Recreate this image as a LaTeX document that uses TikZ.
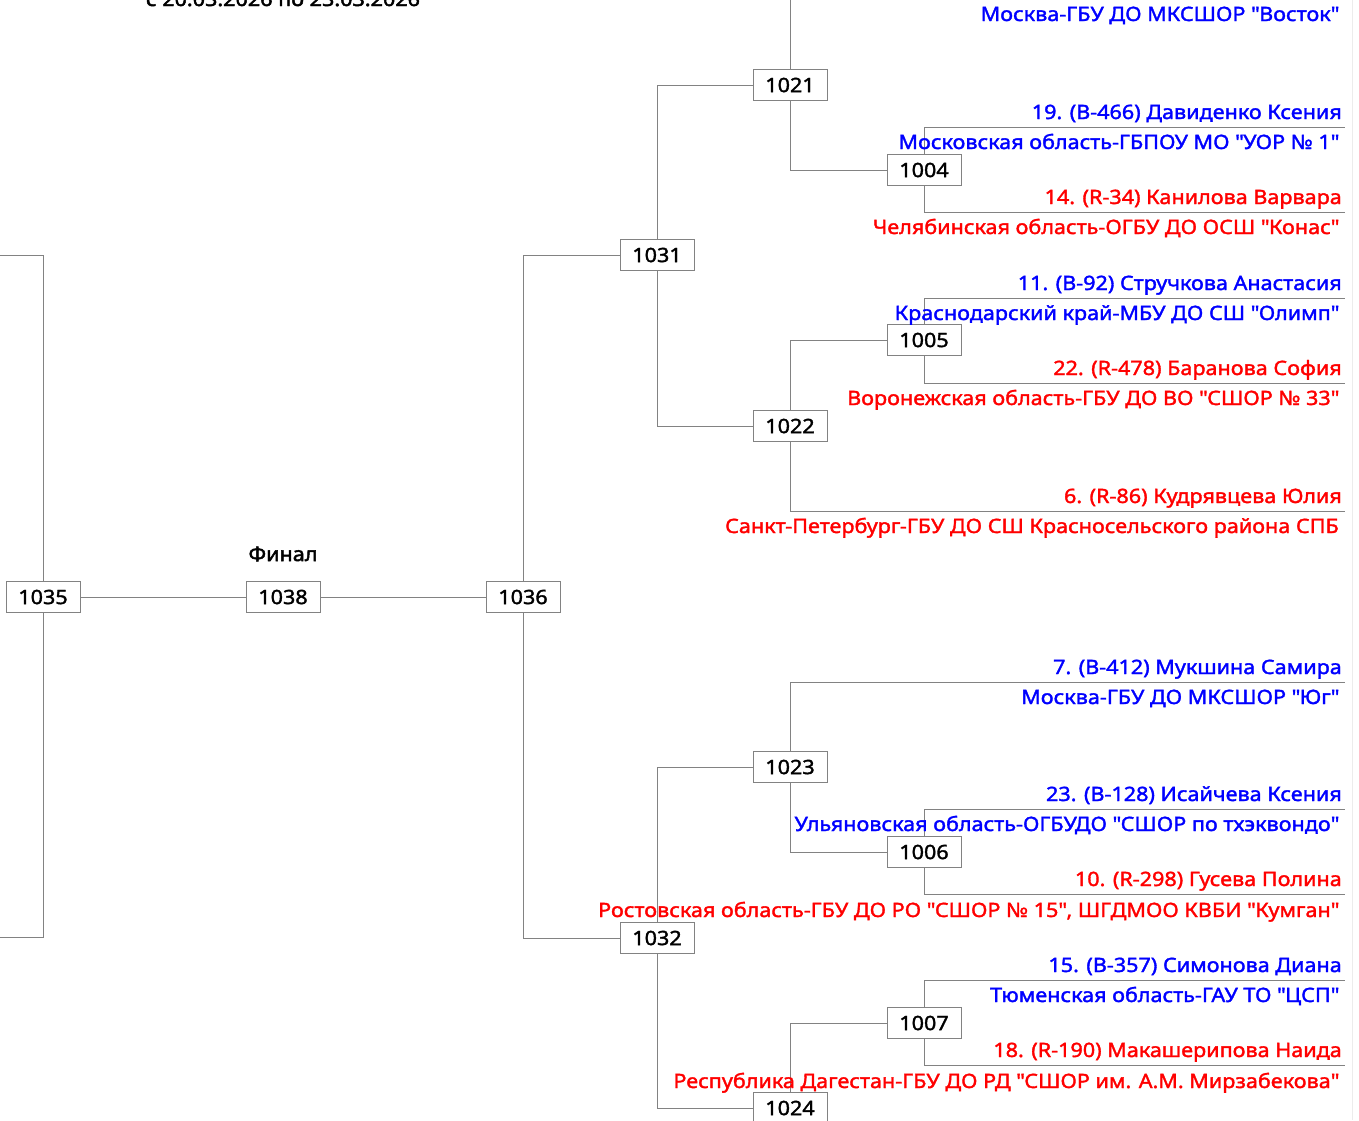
\documentclass[tikz,border=0pt]{standalone}
\usepackage{fontspec}
\setmainfont{Noto Sans}[FakeBold=1.7, FakeStretch=1.09]
\newfontfamily\boldish{Noto Sans}[FakeBold=2.4, FakeStretch=1.09]
\newcommand\qd{\textquotedbl}
\definecolor{pblue}{RGB}{0,0,255}
\definecolor{pred}{RGB}{255,0,0}
\definecolor{lgray}{RGB}{130,130,130}
\tikzset{
  match/.style={draw=lgray, line width=1pt, fill=white, minimum width=74pt, minimum height=31pt, inner sep=0pt, font=\fontsize{19.8}{21}\selectfont, text=black},
  conn/.style={draw=lgray, line width=1pt},
  nm/.style={anchor=base east, inner sep=0pt, font=\fontsize{19.8}{21}\selectfont},
  club/.style={anchor=base east, inner sep=0pt, font=\fontsize{19.8}{21}\selectfont},
}
\begin{document}
\begin{tikzpicture}[x=1pt,y=-1pt]
\clip (0,0) rectangle (1359,1120);
\fill[white] (0,0) rectangle (1359,1120);
% header
\node[anchor=base, inner sep=0pt, font=\fontsize{19.8}{21}\boldish] (date) at (283,6) {с 20.03.2026 по 23.03.2026};
\node[anchor=base, inner sep=0pt, font=\fontsize{19.8}{21}\boldish] (final) at (283,561) {Финал};
% boxes
\node[match] (m1035) at (43,597) {1035};
\node[match] (m1038) at (283,597) {1038};
\node[match] (m1036) at (523,597) {1036};
\node[match] (m1031) at (657,255) {1031};
\node[match] (m1032) at (657,938) {1032};
\node[match] (m1021) at (790,85) {1021};
\node[match] (m1022) at (790,426) {1022};
\node[match] (m1023) at (790,767) {1023};
\node[match] (m1024) at (790,1108) {1024};
\node[match] (m1004) at (924,170) {1004};
\node[match] (m1005) at (924,340) {1005};
\node[match] (m1006) at (924,852) {1006};
\node[match] (m1007) at (924,1023) {1007};
% line end coordinates
\coordinate (l1) at (-5,255);
\coordinate (l2) at (-5,937);
\coordinate (c0) at (1345,-2);
\coordinate (c1) at (1345,127);
\coordinate (c2) at (1345,212);
\coordinate (c3) at (1345,298);
\coordinate (c4) at (1345,383);
\coordinate (c5) at (1345,511);
\coordinate (c6) at (1345,682);
\coordinate (c7) at (1345,809);
\coordinate (c8) at (1345,894);
\coordinate (c9) at (1345,980);
\coordinate (c10) at (1345,1065);
\coordinate (cb) at (790,1130);
% connectors
\draw[conn] (m1035.north) |- (l1);
\draw[conn] (m1035.south) |- (l2);
\draw[conn] (m1035) -- (m1038);
\draw[conn] (m1038) -- (m1036);
\draw[conn] (m1036.north) |- (m1031.west);
\draw[conn] (m1036.south) |- (m1032.west);
\draw[conn] (m1031.north) |- (m1021.west);
\draw[conn] (m1031.south) |- (m1022.west);
\draw[conn] (m1032.north) |- (m1023.west);
\draw[conn] (m1032.south) |- (m1024.west);
\draw[conn] (m1021.north) |- (c0);
\draw[conn] (m1021.south) |- (m1004.west);
\draw[conn] (m1022.north) |- (m1005.west);
\draw[conn] (m1022.south) |- (c5);
\draw[conn] (m1023.north) |- (c6);
\draw[conn] (m1023.south) |- (m1006.west);
\draw[conn] (m1024.north) |- (m1007.west);
\draw[conn] (m1024.south) -- (cb);
\draw[conn] (m1004.north) |- (c1);
\draw[conn] (m1004.south) |- (c2);
\draw[conn] (m1005.north) |- (c3);
\draw[conn] (m1005.south) |- (c4);
\draw[conn] (m1006.north) |- (c7);
\draw[conn] (m1006.south) |- (c8);
\draw[conn] (m1007.north) |- (c9);
\draw[conn] (m1007.south) |- (c10);
% competitors
\node[club,text=pblue] (k0) at (1339,21) {Москва-ГБУ ДО МКСШОР \qd Восток\qd};
\node[nm,text=pblue] (n1) at (1342,119) {19. (B-466) Давиденко Ксения};
\node[club,text=pblue] (k1) at (1339,149) {Московская область-ГБПОУ МО \qd УОР № 1\qd};
\node[nm,text=pred] (n2) at (1342,204) {14. (R-34) Канилова Варвара};
\node[club,text=pred] (k2) at (1339,234) {Челябинская область-ОГБУ ДО ОСШ \qd Конас\qd};
\node[nm,text=pblue] (n3) at (1342,290) {11. (B-92) Стручкова Анастасия};
\node[club,text=pblue] (k3) at (1339,320) {Краснодарский край-МБУ ДО СШ \qd Олимп\qd};
\node[nm,text=pred] (n4) at (1342,375) {22. (R-478) Баранова София};
\node[club,text=pred] (k4) at (1339,405) {Воронежская область-ГБУ ДО ВО \qd СШОР № 33\qd};
\node[nm,text=pred] (n5) at (1342,503) {6. (R-86) Кудрявцева Юлия};
\node[club,text=pred] (k5) at (1339,533) {Санкт-Петербург-ГБУ ДО СШ Красносельского района СПБ};
\node[nm,text=pblue] (n6) at (1342,674) {7. (B-412) Мукшина Самира};
\node[club,text=pblue] (k6) at (1339,704) {Москва-ГБУ ДО МКСШОР \qd Юг\qd};
\node[nm,text=pblue] (n7) at (1342,801) {23. (B-128) Исайчева Ксения};
\node[club,text=pblue] (k7) at (1339,831) {Ульяновская область-ОГБУДО \qd СШОР по тхэквондо\qd};
\node[nm,text=pred] (n8) at (1342,886) {10. (R-298) Гусева Полина};
\node[club,text=pred] (k8) at (1339,917) {Ростовская область-ГБУ ДО РО \qd СШОР № 15\qd, ШГДМОО КВБИ \qd Кумган\qd};
\node[nm,text=pblue] (n9) at (1342,972) {15. (B-357) Симонова Диана};
\node[club,text=pblue] (k9) at (1339,1002) {Тюменская область-ГАУ ТО \qd ЦСП\qd};
\node[nm,text=pred] (n10) at (1342,1057) {18. (R-190) Макашерипова Наида};
\node[club,text=pred] (k10) at (1339,1088) {Республика Дагестан-ГБУ ДО РД \qd СШОР им. А.М. Мирзабекова\qd};
% page edge
\draw[gray!15, line width=1pt] (1352,0) -- (1352,1120);
\end{tikzpicture}
\end{document}
